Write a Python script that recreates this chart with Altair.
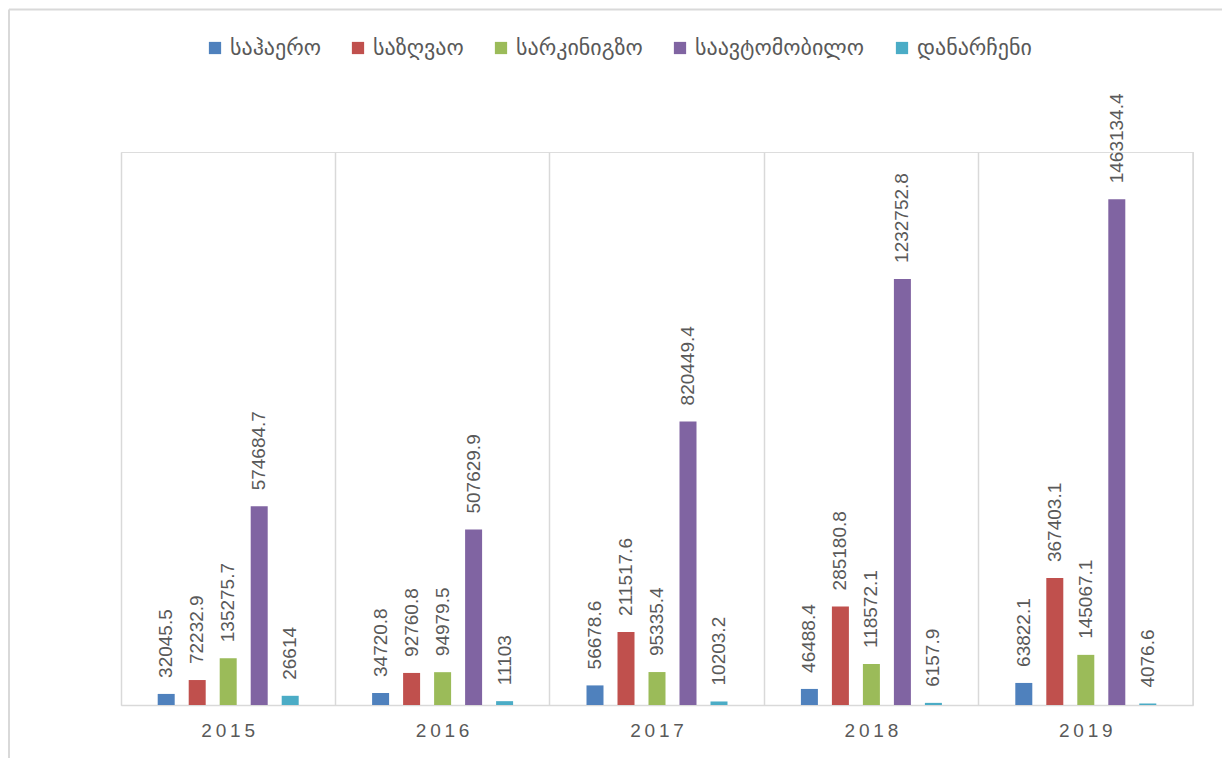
import altair as alt
import pandas as pd

years = ["2015", "2016", "2017", "2018", "2019"]
series = ["საჰაერო", "საზღვაო", "სარკინიგზო", "საავტომობილო", "დანარჩენი"]
colors = ["#4F81BD", "#C0504D", "#9BBB59", "#8064A2", "#4BACC6"]

air = [32045.5, 34720.8, 56678.6, 46488.4, 63822.1]
sea = [72232.9, 92760.8, 211517.6, 285180.8, 367403.1]
rail = [135275.7, 94979.5, 95335.4, 118572.1, 145067.1]
auto = [574684.7, 507629.9, 820449.4, 1232752.8, 1463134.4]
other = [26614, 11103, 10203.2, 6157.9, 4076.6]

rows = []
for name, vals in zip(series, [air, sea, rail, auto, other]):
    for y, v in zip(years, vals):
        rows.append({"year": y, "series": name, "value": v})
df = pd.DataFrame(rows)

W, H = 1072, 553
PL, PT, PR, PB = 113, 144, 29, 53
BAND = W / len(years)
GROUP = 155

x_enc = alt.X(
    "year:N",
    sort=years,
    scale=alt.Scale(paddingInner=0, paddingOuter=0),
    axis=alt.Axis(
        title=None,
        labelAngle=0,
        labelFont="Liberation Sans",
        labelFontSize=19,
        labelColor="#595959",
        labelPadding=16,
        labelExpr="join(split(datum.label, ''), '\u2009')",
        ticks=False,
        domain=True,
        domainColor="#d9d9d9",
        domainWidth=1.5,
        grid=True,
        gridColor="#d9d9d9",
        gridWidth=1.5,
        bandPosition=0,
    ),
)
xo_enc = alt.XOffset(
    "series:N", sort=series,
    scale=alt.Scale(
        paddingInner=0.45, paddingOuter=0.225,
        range=[(BAND - GROUP) / 2, (BAND + GROUP) / 2],
    ),
)
y_enc = alt.Y(
    "value:Q",
    scale=alt.Scale(domain=[0, 1600000], nice=False),
    axis=None,
)
color_enc = alt.Color(
    "series:N",
    sort=series,
    scale=alt.Scale(domain=series, range=colors),
    legend=alt.Legend(
        title=None,
        orient="none",
        legendX=83,
        legendY=-115,
        direction="horizontal",
        columns=5,
        symbolType="square",
        symbolSize=150,
        symbolStrokeWidth=0,
        symbolOpacity=1,
        labelFont="DejaVu Sans",
        labelFontSize=22,
        labelColor="#595959",
        labelOffset=4,
        columnPadding=26,
        labelLimit=400,
    ),
)

base = alt.Chart(df)
bars = base.mark_bar(size=17).encode(x=x_enc, xOffset=xo_enc, y=y_enc, color=color_enc)
labels = base.transform_calculate(lbl="toString(datum.value)").mark_text(
    angle=270, align="left", baseline="middle", dx=16,
    font="Liberation Sans", fontSize=19, color="#595959",
).encode(x=x_enc, xOffset=xo_enc, y=y_enc, text="lbl:N")

one = alt.Chart(pd.DataFrame({"k": [0]}))
right_grid = one.mark_rule(color="#d9d9d9", strokeWidth=1.5).encode(
    x=alt.value(W), y=alt.value(0), y2=alt.value(H)
)
frame_top = one.mark_rule(color="#d9d9d9", strokeWidth=2).encode(
    x=alt.value(-PL + 1), x2=alt.value(W + PR), y=alt.value(-PT + 1.5)
)
frame_left = one.mark_rule(color="#d9d9d9", strokeWidth=2).encode(
    x=alt.value(-PL + 1), y=alt.value(-PT + 1.5), y2=alt.value(H + PB)
)

chart = alt.layer(bars, labels, right_grid, frame_top, frame_left).properties(
    width=W, height=H,
    autosize=alt.AutoSizeParams(type="none"),
    padding={"left": PL, "top": PT, "right": PR, "bottom": PB},
).configure_view(stroke=None).configure(background="white")

chart.save("out.html", embed_options={"renderer": "svg", "actions": False})
